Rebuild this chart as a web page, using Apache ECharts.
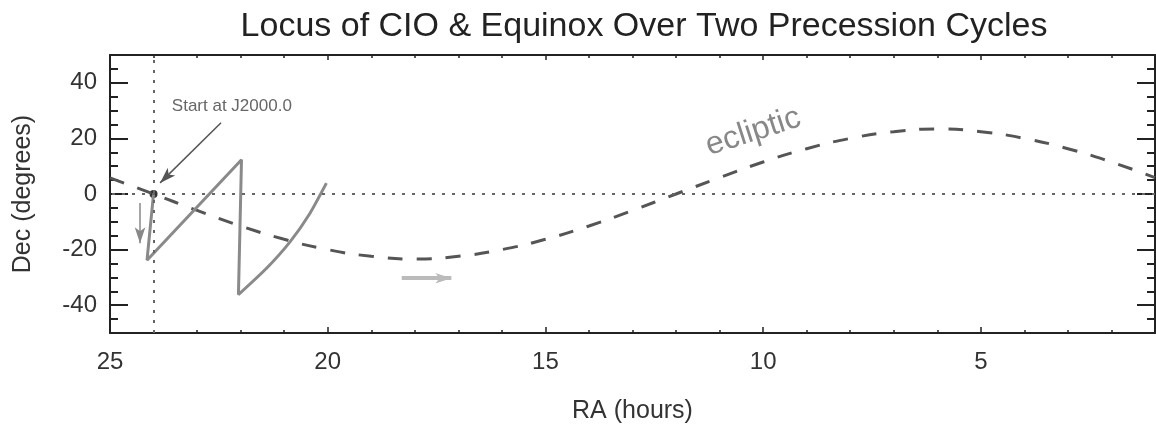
<!DOCTYPE html>
<html>
<head>
<meta charset="utf-8">
<script src="https://cdn.jsdelivr.net/npm/echarts@6/dist/echarts.min.js"></script>
<style>
body { margin: 0; background: #fff; }
#container { width: 1156px; height: 425px; }
</style>
</head>
<body>
<div id="container"></div>
<script>
var dom = document.getElementById('container');
var myChart = echarts.init(dom, null, { renderer: 'canvas' });
var option;

// tick labels
const raTicks = [25, 20, 15, 10, 5];
const decTicks = [-40, -20, 0, 20, 40];

// ecliptic, read every hour off the picture
const eclipticRA = [25, 24, 23, 22, 21, 20, 19, 18, 17, 16, 15, 14, 13, 12, 11, 10, 9, 8, 7, 6, 5, 4, 3, 2, 1];
const eclipticDec = [5.8, 0, -5.9, -11.5, -16.3, -20, -22.4, -23.4, -22.4, -20, -16.3, -11.5, -5.9, 0, 5.9, 11.5, 16.3, 20, 22.4, 23.4, 22.4, 20, 16.3, 11.5, 5.9];

// CIO locus
const cioRA = [24, 24.15, 21.98, 22.05, 21.41, 20.87, 20.41, 20.03];
const cioDec = [0, -23.8, 12.3, -36.2, -26.8, -17.3, -7, 3.9];

const startPoint = [24, 0];

// annotation arrows [from, to]
const startArrow = [[22.45, 25.6], [23.85, 4.0]];
const downArrow = [[24.31, -3.2], [24.31, -17.7]];
const rightArrow = [[18.3, -30.3], [17.16, -30.3]];

const startLabel = { text: 'Start at J2000.0', at: [23.58, 31.4] };
const eclipticLabel = { text: 'ecliptic', at: [10.23, 22.3] };

const fontName = 'Liberation Sans';
const axisColor = '#222';

function zip(xs, ys) {
    let out = [];
    for (let i = 0; i < xs.length; i++) out.push([xs[i], ys[i]]);
    return out;
}

function raAxis(pos, major, len, withLine) {
    let ax = {
        type: 'value', min: 1, max: 25, inverse: true, position: pos,
        axisLine: { show: withLine, onZero: false, lineStyle: { color: axisColor, width: 2 } },
        axisTick: { inside: true, length: len, lineStyle: { color: axisColor, width: 1.5 } },
        axisLabel: { show: false },
        splitLine: { show: false }
    };
    if (major) {
        ax.axisTick.customValues = raTicks;
    } else {
        ax.interval = 1;
    }
    return ax;
}

function decAxis(pos, major, len, withLine) {
    let ax = {
        type: 'value', min: -50, max: 50, position: pos,
        axisLine: { show: withLine, onZero: false, lineStyle: { color: axisColor, width: 2 } },
        axisTick: { inside: true, length: len, lineStyle: { color: axisColor, width: 2 } },
        axisLabel: { show: false },
        splitLine: { show: false }
    };
    if (major) {
        ax.axisTick.customValues = decTicks;
    } else {
        ax.interval = 5;
    }
    return ax;
}

let xBottom = raAxis('bottom', true, 6, true);
xBottom.axisLabel = {
    show: true, customValues: raTicks, showMinLabel: true, showMaxLabel: true,
    fontSize: 24, color: '#333', fontFamily: fontName, margin: 17
};
xBottom.name = 'RA (hours)';
xBottom.nameLocation = 'middle';
xBottom.nameGap = 66;
xBottom.nameTextStyle = { fontSize: 25, color: '#333', fontFamily: fontName };

let yLeft = decAxis('left', true, 18, true);
yLeft.axisLabel = {
    show: true, customValues: decTicks, showMinLabel: true, showMaxLabel: true,
    fontSize: 24, color: '#333', fontFamily: fontName, margin: 13
};
yLeft.name = 'Dec (degrees)';
yLeft.nameLocation = 'middle';
yLeft.nameGap = 74;
yLeft.nameTextStyle = { fontSize: 25, color: '#333', fontFamily: fontName };

option = {
    backgroundColor: '#fff',
    animation: false,
    title: {
        text: 'Locus of CIO & Equinox Over Two Precession Cycles',
        left: 639,
        textAlign: 'center',
        top: 5,
        textStyle: { fontSize: 34, fontWeight: 'normal', color: '#222', fontFamily: fontName }
    },
    grid: { left: 110, right: 1, top: 55, bottom: 92, outerBoundsMode: 'none', containLabel: false },
    xAxis: [
        xBottom,
        raAxis('bottom', false, 3, false),
        raAxis('top', true, 5, true),
        raAxis('top', false, 3, false)
    ],
    yAxis: [
        yLeft,
        decAxis('left', false, 8, false),
        decAxis('right', true, 18, true),
        decAxis('right', false, 8, false)
    ],
    series: [
        {
            name: 'reference',
            type: 'line',
            data: [],
            silent: true,
            markLine: {
                silent: true,
                symbol: ['none', 'none'],
                label: { show: false },
                lineStyle: { color: '#666', width: 2, type: [3, 7] },
                data: [{ yAxis: 0 }, { xAxis: 24 }]
            }
        },
        {
            name: 'ecliptic',
            type: 'line',
            data: zip(eclipticRA, eclipticDec),
            smooth: true,
            showSymbol: false,
            silent: true,
            lineStyle: { color: '#555', width: 3, type: [15, 14] }
        },
        {
            name: 'CIO',
            type: 'line',
            data: zip(cioRA, cioDec),
            smooth: 0.2,
            showSymbol: false,
            silent: true,
            lineStyle: { color: '#8a8a8a', width: 3 }
        },
        {
            name: 'J2000',
            type: 'scatter',
            data: [startPoint],
            symbolSize: 8,
            silent: true,
            itemStyle: { color: '#000' }
        },
        {
            name: 'arrows',
            type: 'line',
            data: [],
            silent: true,
            markLine: {
                silent: true,
                symbol: ['none', 'arrow'],
                label: { show: false },
                data: [
                    [{ coord: startArrow[0], lineStyle: { color: '#555', width: 1.5, type: 'solid' }, symbolSize: 9 }, { coord: startArrow[1] }],
                    [{ coord: downArrow[0], lineStyle: { color: '#888', width: 1.5, type: 'solid' }, symbolSize: 9 }, { coord: downArrow[1] }],
                    [{ coord: rightArrow[0], lineStyle: { color: '#bbb', width: 4, type: 'solid' }, symbolSize: 14 }, { coord: rightArrow[1] }]
                ]
            }
        }
    ]
};

myChart.setOption(option);

let p1 = myChart.convertToPixel({ gridIndex: 0 }, startLabel.at);
let p2 = myChart.convertToPixel({ gridIndex: 0 }, eclipticLabel.at);
myChart.setOption({
    graphic: [
        {
            type: 'text', x: p1[0], y: p1[1], silent: true,
            style: { text: startLabel.text, fontSize: 17, fill: '#666', fontFamily: fontName, verticalAlign: 'middle', align: 'left' }
        },
        {
            type: 'text', x: p2[0], y: p2[1], rotation: 17.8 * Math.PI / 180, silent: true,
            style: { text: eclipticLabel.text, fontSize: 32, fill: '#888', fontFamily: fontName, verticalAlign: 'middle', align: 'center' }
        }
    ]
});

window.addEventListener('resize', myChart.resize);
</script>
</body>
</html>
